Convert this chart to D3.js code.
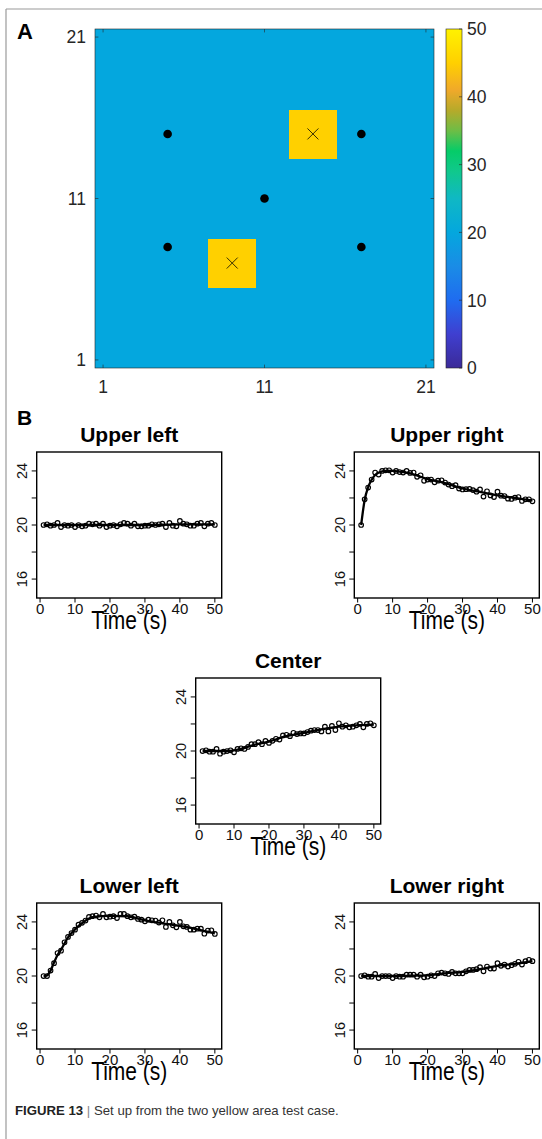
<!DOCTYPE html>
<html>
<head>
<meta charset="utf-8">
<script src="https://cdn.jsdelivr.net/npm/d3@7"></script>
<style>
  body { margin: 0; background: #fff; }
  svg { display: block; }
  text { font-family: "Liberation Sans", Arial, Helvetica, sans-serif; }
</style>
</head>
<body>
<svg id="fig" width="542" height="1139"></svg>
<script>
// ---------- Panel A: temperature field on a 21 x 21 grid ----------
const gridSize = 21;
const baseTemp = 20;
const hotTemp = 45;
const hotCenters = [[14, 15], [9, 7]];   // centres of the 3 x 3 heated patches
const hotHalfWidth = 1;
const sensors = [[5, 15], [17, 15], [11, 11], [5, 8], [17, 8]];
const gridTicks = [1, 11, 21];
const colorTicks = [0, 10, 20, 30, 40, 50];
const colorStopValues = [0, 5, 10, 15, 20, 25, 29, 32, 35, 38, 41, 45, 50];
const colorStopColors = ["#3b2a98", "#3f3fd0", "#1f6cf0", "#1a8ce6", "#04a7de", "#0fb8c4",
                         "#10c88c", "#05cc68", "#6ebd46", "#b6aa2a", "#f0a92a", "#ffd000", "#fff200"];

// ---------- Panel B: sensor temperatures over time ----------
const time = [1,2,3,4,5,6,7,8,9,10,11,12,13,14,15,16,17,18,19,20,21,22,23,24,25,
              26,27,28,29,30,31,32,33,34,35,36,37,38,39,40,41,42,43,44,45,46,47,48,49,50];
const timeTicks = [0, 10, 20, 30, 40, 50];
const tempTicks = [16, 18, 20, 22, 24];
const tempLabels = [16, 20, 24];
const fitTime = [1, 2, 3, 4, 5, 6, 8, 10, 12, 15, 20, 25, 30, 35, 40, 45, 50];

const upperLeftTemp = [20.0,20.05,19.95,20.0,20.15,19.85,20.0,19.95,20.0,19.85,20.0,19.9,19.95,20.1,20.05,
  20.1,19.95,20.1,19.85,19.95,20.0,19.9,20.05,20.15,20.1,19.95,20.1,19.9,19.9,19.95,19.95,20.05,20.0,20.05,
  20.1,19.85,20.15,19.95,19.9,20.3,20.1,20.05,19.95,19.95,20.1,20.15,19.9,20.1,20.15,20.0];
const upperLeftFit = [20,20,20,20,20,20,20,20,20,20,20,20,20,20.02,20.05,20.05,20.05];

const upperRightTemp = [20.0,21.9,22.77,23.36,23.88,23.73,24.0,24.05,24.05,23.88,24.0,23.92,23.88,24.0,23.85,
  23.88,23.56,23.68,23.27,23.36,23.36,23.16,23.28,23.31,23.14,22.99,22.87,22.95,22.7,22.63,22.65,22.67,22.58,
  22.46,22.63,22.1,22.49,22.19,22.07,22.46,22.17,22.14,21.95,21.93,22.02,22.07,21.78,21.9,21.9,21.75];
const upperRightFit = [20,21.85,22.8,23.35,23.7,23.87,24.0,24.0,23.95,23.82,23.4,23.1,22.7,22.45,22.2,22.0,21.8];

const centerTemp = [20.0,20.05,19.95,19.95,20.15,19.8,19.95,20.0,20.05,19.9,20.15,20.2,20.15,20.3,20.5,20.5,
  20.65,20.5,20.75,20.6,20.75,20.9,20.85,21.15,21.2,21.1,21.35,21.25,21.3,21.3,21.4,21.5,21.55,21.55,21.45,
  21.8,21.45,21.85,21.55,22.05,21.8,21.9,21.75,21.8,21.9,22.0,21.75,22.0,22.05,21.9];
const centerFit = [20,20,20,20,20,20,20,20.05,20.15,20.4,20.7,21.1,21.35,21.6,21.8,21.9,21.95];

const lowerLeftTemp = [20.0,20.0,20.4,20.95,21.7,21.87,22.49,22.89,23.18,23.43,23.8,23.93,24.1,24.37,24.42,
  24.47,24.34,24.59,24.34,24.39,24.42,24.29,24.59,24.59,24.42,24.34,24.39,24.22,24.17,24.05,24.17,24.12,24.1,
  23.95,24.12,23.63,24.0,23.75,23.6,24.0,23.68,23.63,23.43,23.43,23.5,23.5,23.13,23.36,23.38,23.11];
const lowerLeftFit = [20,20.05,20.4,21.0,21.55,21.95,22.85,23.45,23.9,24.35,24.45,24.42,24.12,23.9,23.7,23.45,23.15];

const lowerRightTemp = [20.0,20.05,19.95,19.95,20.15,19.85,20.0,20.0,20.0,19.85,20.0,19.95,19.95,20.1,20.1,
  20.1,19.95,20.1,19.9,19.95,20.05,20.0,20.2,20.25,20.2,20.15,20.3,20.2,20.2,20.2,20.35,20.45,20.45,20.5,
  20.65,20.35,20.7,20.55,20.55,20.95,20.75,20.85,20.7,20.8,20.9,21.05,20.85,21.1,21.2,21.1];
const lowerRightFit = [20,20,20,20,20,20,20,20,20,20.02,20.05,20.2,20.3,20.5,20.75,20.9,21.1];

const panelTitles = ["Upper left", "Upper right", "Center", "Lower left", "Lower right"];

// ---------------------------------------------------------------
const svg = d3.select("#fig");
const axisInk = "#262626";

// outer frame of the figure
svg.append("line").attr("x1", 6).attr("y1", 9).attr("x2", 542).attr("y2", 9)
  .attr("stroke", "#9a9a9a").attr("stroke-width", 1.2);
svg.append("line").attr("x1", 6).attr("y1", 9).attr("x2", 6).attr("y2", 1139)
  .attr("stroke", "#9a9a9a").attr("stroke-width", 1.2);

// panel letters
svg.append("text").attr("x", 17).attr("y", 39).attr("font-size", 22).attr("font-weight", "bold").text("A");
svg.append("text").attr("x", 17).attr("y", 425).attr("font-size", 21).attr("font-weight", "bold").text("B");

// ---------- Panel A ----------
const heat = { left: 95, top: 29, size: 339 };
const gx = d3.scaleLinear().domain([0.5, gridSize + 0.5]).range([heat.left, heat.left + heat.size]);
const gy = d3.scaleLinear().domain([0.5, gridSize + 0.5]).range([heat.top + heat.size, heat.top]);
const colorScale = d3.scaleLinear().domain(colorStopValues).range(colorStopColors).clamp(true);

// field values: base temperature with heated patches
const cells = [];
for (let i = 1; i <= gridSize; i++) {
  for (let j = 1; j <= gridSize; j++) {
    const hot = hotCenters.some(([cx, cy]) =>
      Math.abs(i - cx) <= hotHalfWidth && Math.abs(j - cy) <= hotHalfWidth);
    cells.push({ x: i, y: j, v: hot ? hotTemp : baseTemp });
  }
}
const gA = svg.append("g");
gA.selectAll("rect.cell").data(cells).join("rect").attr("class", "cell")
  .attr("x", d => gx(d.x - 0.5)).attr("y", d => gy(d.y + 0.5))
  .attr("width", gx(1.5) - gx(0.5) + 0.4).attr("height", gy(0.5) - gy(1.5) + 0.4)
  .attr("fill", d => colorScale(d.v)).attr("shape-rendering", "crispEdges");

// crosses at patch centres
hotCenters.forEach(([cx, cy]) => {
  const px = gx(cx), py = gy(cy), s = 5.5;
  gA.append("path").attr("d", `M${px - s},${py - s}L${px + s},${py + s}M${px - s},${py + s}L${px + s},${py - s}`)
    .attr("stroke", "#3a3000").attr("stroke-width", 1);
});
// sensor positions
gA.selectAll("circle.sensor").data(sensors).join("circle").attr("class", "sensor")
  .attr("cx", d => gx(d[0])).attr("cy", d => gy(d[1])).attr("r", 4.3).attr("fill", "#000");

// frame and inward ticks on all four sides
gA.append("rect").attr("x", heat.left).attr("y", heat.top).attr("width", heat.size).attr("height", heat.size)
  .attr("fill", "none").attr("stroke", axisInk).attr("stroke-width", 0.6);
const tl = 3.4;
gridTicks.forEach(t => {
  gA.append("line").attr("x1", gx(t)).attr("x2", gx(t)).attr("y1", heat.top + heat.size).attr("y2", heat.top + heat.size - tl)
    .attr("stroke", axisInk).attr("stroke-width", 0.6);
  gA.append("line").attr("x1", gx(t)).attr("x2", gx(t)).attr("y1", heat.top).attr("y2", heat.top + tl)
    .attr("stroke", axisInk).attr("stroke-width", 0.6);
  gA.append("line").attr("y1", gy(t)).attr("y2", gy(t)).attr("x1", heat.left).attr("x2", heat.left + tl)
    .attr("stroke", axisInk).attr("stroke-width", 0.6);
  gA.append("line").attr("y1", gy(t)).attr("y2", gy(t)).attr("x1", heat.left + heat.size).attr("x2", heat.left + heat.size - tl)
    .attr("stroke", axisInk).attr("stroke-width", 0.6);
  gA.append("text").attr("x", gx(t)).attr("y", heat.top + heat.size + 25).attr("text-anchor", "middle")
    .attr("font-size", 17.5).attr("fill", axisInk).text(t);
  gA.append("text").attr("x", heat.left - 9).attr("y", gy(t) + 6.3).attr("text-anchor", "end")
    .attr("font-size", 17.5).attr("fill", axisInk).text(t);
});

// colorbar
const cbar = { left: 446, top: 29, width: 16, height: 339 };
const cy = d3.scaleLinear().domain([0, 50]).range([cbar.top + cbar.height, cbar.top]);
const defs = svg.append("defs");
const grad = defs.append("linearGradient").attr("id", "cbGrad")
  .attr("x1", 0).attr("y1", 1).attr("x2", 0).attr("y2", 0);
colorStopValues.forEach((v, i) => grad.append("stop").attr("offset", v / 50).attr("stop-color", colorStopColors[i]));
svg.append("rect").attr("x", cbar.left).attr("y", cbar.top).attr("width", cbar.width).attr("height", cbar.height)
  .attr("fill", "url(#cbGrad)").attr("stroke", axisInk).attr("stroke-width", 0.6);
colorTicks.forEach(t => {
  svg.append("line").attr("x1", cbar.left + cbar.width).attr("x2", cbar.left + cbar.width - 3)
    .attr("y1", cy(t)).attr("y2", cy(t)).attr("stroke", axisInk).attr("stroke-width", 0.6);
  svg.append("text").attr("x", cbar.left + cbar.width + 5).attr("y", cy(t) + 6.3)
    .attr("font-size", 17.5).attr("fill", axisInk).text(t);
});

// ---------- Panel B ----------
const plotW = 185, plotH = 146;
const panels = [
  { title: panelTitles[0], left: 36.7, top: 452, temp: upperLeftTemp, fit: upperLeftFit },
  { title: panelTitles[1], left: 354.3, top: 452, temp: upperRightTemp, fit: upperRightFit },
  { title: panelTitles[2], left: 195.7, top: 678, temp: centerTemp, fit: centerFit },
  { title: panelTitles[3], left: 36.7, top: 903, temp: lowerLeftTemp, fit: lowerLeftFit },
  { title: panelTitles[4], left: 354.3, top: 903, temp: lowerRightTemp, fit: lowerRightFit }
];

panels.forEach(p => {
  const g = svg.append("g").attr("transform", `translate(${p.left},${p.top})`);
  const x = d3.scaleLinear().domain([-0.96, 51.96]).range([0, plotW]);
  const y = d3.scaleLinear().domain([14.6, 25.4]).range([plotH, 0]);

  // fitted trend
  const fitLine = d3.line().x((d, i) => x(fitTime[i])).y(d => y(d)).curve(d3.curveMonotoneX);
  g.append("path").attr("d", fitLine(p.fit)).attr("fill", "none")
    .attr("stroke", "#000").attr("stroke-width", 2.3).attr("stroke-linejoin", "round");
  // measured samples
  g.selectAll("circle.pt").data(p.temp).join("circle").attr("class", "pt")
    .attr("cx", (d, i) => x(time[i])).attr("cy", d => y(d)).attr("r", 2.3)
    .attr("fill", "none").attr("stroke", "#000").attr("stroke-width", 1.15);

  // box
  g.append("rect").attr("width", plotW).attr("height", plotH)
    .attr("fill", "none").attr("stroke", "#000").attr("stroke-width", 1.4);

  // x axis
  timeTicks.forEach(t => {
    g.append("line").attr("x1", x(t)).attr("x2", x(t)).attr("y1", plotH).attr("y2", plotH + 4.5)
      .attr("stroke", "#000").attr("stroke-width", 1);
    g.append("text").attr("x", x(t)).attr("y", plotH + 15.5).attr("text-anchor", "middle")
      .attr("font-size", 15).attr("fill", "#111").text(t);
  });
  // y axis
  tempTicks.forEach(t => {
    g.append("line").attr("x1", 0).attr("x2", -5).attr("y1", y(t)).attr("y2", y(t))
      .attr("stroke", "#000").attr("stroke-width", 1);
  });
  tempLabels.forEach(t => {
    g.append("text").attr("transform", `translate(-9.5,${y(t)}) rotate(-90)`)
      .attr("text-anchor", "middle").attr("font-size", 14.5).attr("fill", "#111").text(t);
  });

  // title and axis label
  g.append("text").attr("x", plotW / 2).attr("y", -10).attr("text-anchor", "middle")
    .attr("font-size", 21).attr("font-weight", "bold").attr("fill", "#000").text(p.title);
  g.append("text").attr("transform", `translate(${plotW / 2},${plotH + 31}) scale(1,1.22)`)
    .attr("text-anchor", "middle").attr("font-size", 21).attr("fill", "#000").text("Time (s)");
});

// ---------- Caption ----------
const cap = svg.append("text").attr("x", 15).attr("y", 1115).attr("font-size", 13.2).attr("fill", "#333");
cap.append("tspan").attr("font-weight", "bold").attr("fill", "#222").text("FIGURE 13");
cap.append("tspan").attr("fill", "#888").text(" | ");
cap.append("tspan").text("Set up from the two yellow area test case.");
</script>
</body>
</html>
